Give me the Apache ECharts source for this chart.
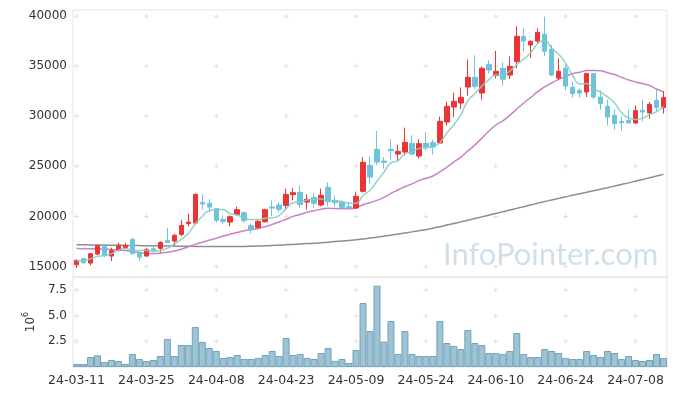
<!DOCTYPE html>
<html>
<head>
<meta charset="utf-8">
<script src="https://cdn.jsdelivr.net/npm/echarts@6/dist/echarts.min.js"></script>
<style>html,body{margin:0;padding:0;background:#fff}#c{width:677px;height:396px}</style>
</head>
<body>
<div id="c"></div>
<script>
const categories = ['24-03-11','24-03-12','24-03-13','24-03-14','24-03-15','24-03-18','24-03-19','24-03-20','24-03-21','24-03-22','24-03-25','24-03-26','24-03-27','24-03-28','24-03-29',
'24-04-01','24-04-02','24-04-03','24-04-04','24-04-05','24-04-08','24-04-09','24-04-11','24-04-12','24-04-15','24-04-16','24-04-17','24-04-18','24-04-19','24-04-22','24-04-23','24-04-24','24-04-25','24-04-26','24-04-29','24-04-30',
'24-05-02','24-05-03','24-05-07','24-05-08','24-05-09','24-05-10','24-05-13','24-05-14','24-05-16','24-05-17','24-05-20','24-05-21','24-05-22','24-05-23','24-05-24','24-05-27','24-05-28','24-05-29','24-05-30','24-05-31',
'24-06-03','24-06-04','24-06-05','24-06-07','24-06-10','24-06-11','24-06-12','24-06-13','24-06-14','24-06-17','24-06-18','24-06-19','24-06-20','24-06-21','24-06-24','24-06-25','24-06-26','24-06-27','24-06-28',
'24-07-01','24-07-02','24-07-03','24-07-04','24-07-05','24-07-08','24-07-09','24-07-10','24-07-11','24-07-12'];

const opens  = [15170,15770,15330,16230,17000,16030,16600,16900,17700,16400,16030,16770,16800,17600,17530,18200,19270,19330,21400,21300,20770,19700,19430,20200,20370,19070,18870,19470,20930,21130,21100,22170,22400,21430,21900,21130,22900,21570,21470,20970,20830,22500,25100,26700,25530,26700,26230,26430,27300,26030,27300,27370,27330,29430,30930,31330,32930,33900,32330,35200,34070,34800,34130,35470,38000,37130,37530,38200,36730,33830,34800,32900,32600,32430,34270,31930,31000,30100,29470,29600,29330,30600,30330,31600,30870];
const closes = [15600,15370,16270,17070,16070,16600,17070,17100,16270,15930,16700,16600,17400,17400,18100,19100,19430,22200,21230,20930,19600,19500,19970,20670,19570,18670,19500,20670,20830,20700,22200,22370,21170,21700,21300,22100,21470,21370,20870,20830,22000,25400,23930,25430,25400,26570,26500,27400,26230,27270,26900,26930,29500,31000,31500,31900,33900,33000,34800,34630,34500,33700,35000,38000,37530,37500,38400,36500,34130,34500,33030,32270,32330,34270,31930,31270,29930,29270,29370,29330,30570,30430,31200,30870,31870];
const lows   = [14870,15270,15100,16100,15930,15530,16500,16730,16200,15570,15970,16530,16400,17370,17100,18030,19000,19170,20670,20400,19370,19270,19000,20100,19370,18270,18770,19370,20000,20370,20670,21600,20870,20700,20870,21000,21000,20970,20800,20770,20730,22370,23270,25130,24770,25700,25500,26100,26100,25770,26600,26170,27270,29100,29930,30700,32070,32770,31670,34300,33800,33070,33730,34800,36470,35870,37330,36030,34030,33630,32630,31870,31870,31930,31700,30670,29100,28670,28600,29330,29270,29500,29770,30430,30270];
const highs  = [15700,15830,16330,17170,17100,16870,17370,17300,17900,16500,16870,17070,17500,18870,18270,19670,20270,22300,22200,21730,20830,20100,20100,20970,20470,19270,19670,20770,21600,21430,22770,22830,23070,22200,22300,22770,23400,22100,21600,21470,22470,25930,26000,28530,25930,27700,27170,28870,28100,27700,28400,27670,29970,31470,32370,32900,35670,36100,34970,35600,36530,35400,36000,39000,38800,37600,38800,39970,37130,35800,35200,33470,32800,34330,34270,32600,31670,30670,30000,30670,31100,31670,31430,32670,32530];

const volumes = [290000,290000,970000,1140000,490000,680000,580000,290000,1270000,780000,580000,680000,1070000,2730000,1070000,2140000,2140000,3900000,2440000,1850000,1560000,880000,970000,1170000,780000,780000,880000,1170000,1560000,1070000,2820000,1170000,1270000,880000,780000,1360000,1850000,600000,780000,390000,1660000,6230000,3500000,7920000,2470000,4480000,1270000,3500000,1270000,1070000,1070000,1070000,4480000,2340000,2050000,1750000,3600000,2340000,2140000,1360000,1360000,1270000,1560000,3310000,1270000,970000,970000,1750000,1560000,1360000,880000,780000,780000,1560000,1170000,970000,1560000,1360000,780000,1070000,680000,580000,680000,1270000,880000];

const ma5 = [15530,15600,15770,16000,16076,16276,16616,16782,16622,16594,16614,16520,16580,16806,17240,17720,18286,19246,20012,20578,20678,20692,20246,20134,19862,19676,19676,19816,19848,20074,20780,21354,21454,21628,21748,21728,21548,21588,21422,21328,21308,22094,22606,23518,24432,25346,25566,26260,26420,26794,26860,26946,27366,28320,29166,30166,31560,32260,33020,33646,34166,34126,34526,35166,35746,36346,37286,37586,36812,36206,35312,34086,33252,33280,32766,32414,31946,31334,30354,29834,29694,29794,30180,30474,30980];
const ma20 = [16780,16770,16760,16750,16720,16700,16650,16580,16480,16380,16300,16280,16320,16420,16530,16720,16950,17200,17420,17622,17822,18029,18214,18394,18569,18672,18794,18972,19200,19439,19714,20002,20191,20406,20566,20716,20818,20776,20758,20753,20873,21168,21366,21604,21896,22291,22641,22977,23247,23576,23811,24039,24455,24920,25430,25920,26542,27123,27820,28510,29135,29550,30103,30732,31338,31885,32480,32935,33330,33691,33998,34265,34406,34570,34591,34560,34361,34175,33903,33638,33442,33278,33088,32732,32449];
const maLong = [17170,17160,17150,17140,17130,17120,17110,17100,17090,17080,17070,17060,17050,17040,17030,17020,17010,17000,17000,17000,17000,17000,17000,17000,17000,17010,17030,17060,17090,17120,17160,17200,17240,17280,17320,17370,17420,17480,17540,17600,17660,17740,17830,17920,18020,18120,18230,18340,18450,18560,18670,18820,18970,19130,19290,19450,19610,19780,19950,20120,20290,20460,20630,20800,20970,21140,21310,21480,21640,21800,21960,22110,22260,22410,22560,22710,22870,23030,23190,23350,23520,23690,23860,24030,24200];

const priceTicks = [15000,20000,25000,30000,35000,40000];
const volumeTicks = [2500000,5000000,7500000];
const labelStep = 10;

const candleData = opens.map((o,i)=>[o,closes[i],lows[i],highs[i]]);
const tickIdx = categories.map((c,i)=>i).filter(i=>i%labelStep===0);
const crossMain = [], crossVol = [];
tickIdx.forEach(i=>{ priceTicks.forEach(v=>crossMain.push([categories[i],v])); volumeTicks.forEach(v=>crossVol.push([categories[i],v])); });
const plusSym = 'path://M2,0h1v5h-1z M0,2h5v1h-5z';

const chart = echarts.init(document.getElementById('c'));
const font = 'DejaVu Sans';
chart.setOption({
  animation:false,
  backgroundColor:'#fff',
  grid:[
    {left:73,right:10,top:10,height:267,show:true,borderColor:'#e4e4e4',borderWidth:1,containLabel:false},
    {left:73,right:10,top:277,height:90,show:true,borderColor:'#e4e4e4',borderWidth:1,containLabel:false}
  ],
  xAxis:[
    {type:'category',gridIndex:0,data:categories,boundaryGap:true,axisLine:{show:false},axisTick:{show:false},axisLabel:{show:false},splitLine:{show:false}},
    {type:'category',gridIndex:1,data:categories,boundaryGap:true,axisLine:{show:false},axisTick:{show:false},
     axisLabel:{interval:labelStep-1,color:'#333',fontFamily:font,fontSize:12.5,margin:7},splitLine:{show:false}}
  ],
  yAxis:[
    {type:'value',gridIndex:0,min:13940,max:40630,splitNumber:5,axisLine:{show:false},axisTick:{show:false},splitLine:{show:false},
     axisLabel:{showMinLabel:false,showMaxLabel:false,color:'#333',fontFamily:font,fontSize:12,margin:6,formatter:v=>String(v)}},
    {type:'value',gridIndex:1,min:0,max:8765000,interval:2500000,axisLine:{show:false},axisTick:{show:false},splitLine:{show:false},
     axisLabel:{showMinLabel:false,showMaxLabel:false,color:'#333',fontFamily:font,fontSize:12,margin:6,formatter:v=>(v/1e6).toFixed(1)},
     name:'{a|10}{b|6}',nameLocation:'middle',nameRotate:90,nameGap:30,
     nameTextStyle:{color:'#333',fontFamily:font,rich:{a:{fontSize:12,fontFamily:font,color:'#333',lineHeight:18},b:{fontSize:8,fontFamily:font,color:'#333',verticalAlign:'top',lineHeight:18}}}}
  ],
  graphic:[
    {type:'text',left:443,top:239,z:0,silent:true,style:{text:'InfoPointer.com',fontFamily:'Lato',fontSize:31,fill:'rgba(150,185,205,0.45)'}}
  ],
  series:[
    {type:'scatter',xAxisIndex:0,yAxisIndex:0,data:crossMain,symbol:plusSym,symbolSize:5,itemStyle:{color:'#d8d8d8'},z:1,silent:true},
    {type:'scatter',xAxisIndex:1,yAxisIndex:1,data:crossVol,symbol:plusSym,symbolSize:5,itemStyle:{color:'#d8d8d8'},z:1,silent:true},
    {type:'line',xAxisIndex:0,yAxisIndex:0,data:maLong,smooth:true,symbol:'none',lineStyle:{color:'#8e8e8e',width:1.5},z:2},
    {type:'line',xAxisIndex:0,yAxisIndex:0,data:ma20,smooth:true,symbol:'none',lineStyle:{color:'#c882c8',width:1.5},z:2},
    {type:'candlestick',xAxisIndex:0,yAxisIndex:0,data:candleData,barWidth:5,z:3,
     itemStyle:{color:'#ec3434',color0:'#6cc3dc',borderColor:'#ec3434',borderColor0:'#6cc3dc',borderWidth:1}},
    {type:'line',xAxisIndex:0,yAxisIndex:0,data:ma5,smooth:true,symbol:'none',lineStyle:{color:'#86cdc2',width:1.5,opacity:0.9},z:4},
    {type:'bar',xAxisIndex:1,yAxisIndex:1,data:volumes,barWidth:'100%',barCategoryGap:0,z:3,
     itemStyle:{color:'#9dc3d4',borderColor:'#72a3bb',borderWidth:1}}
  ]
});
</script>
</body>
</html>
